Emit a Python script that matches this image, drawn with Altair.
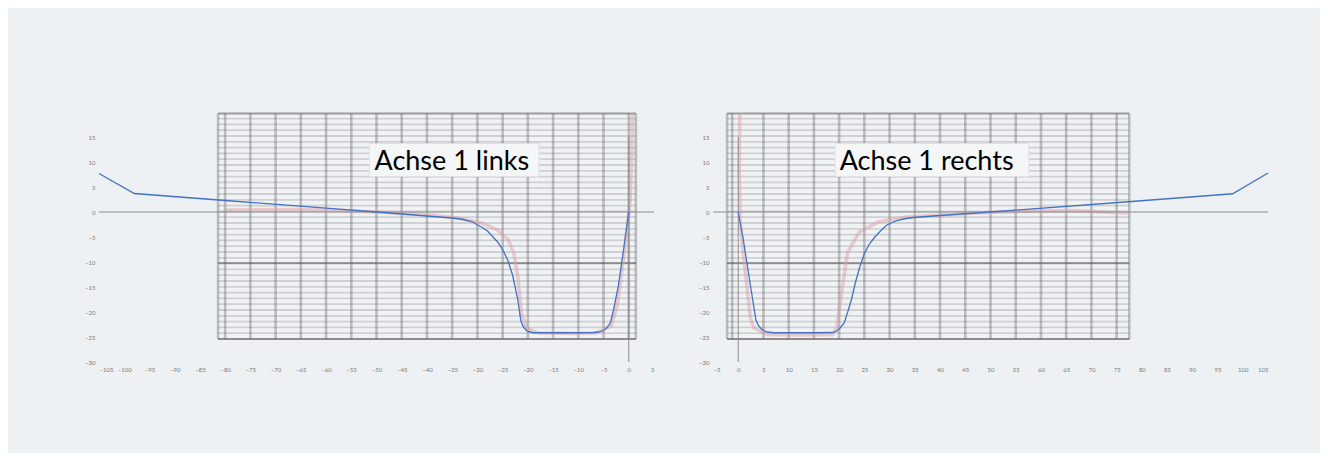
import altair as alt
import pandas as pd

# ---------------- data ----------------
# blue measured curve, left axis
blue_left_x = [-105, -98, -80, -60, -50, -40, -35, -33, -31, -30, -29, -28, -27, -26, -25, -24, -23, -22,
               -21.4, -21, -20.5, -20, -19, -15, -10, -7, -6, -5, -4.5, -4, -3.6, -3, -2.1, -1, 0]
blue_left_y = [7.7, 3.7, 2.3, 0.77, 0.0, -0.8, -1.2, -1.45, -1.95, -2.6, -3.1, -3.8, -4.9, -6.0, -7.5, -9.6,
               -12.7, -17.5, -21.7, -22.8, -23.5, -23.9, -24.15, -24.15, -24.15, -24.1, -24.0, -23.7, -23.3,
               -22.7, -22.0, -19.5, -15, -7.3, 0]
# blue measured curve, right axis
blue_right_x = [0, 1, 2, 3, 3.5, 4, 4.5, 5, 5.8, 7, 10, 15, 18.7, 19.5, 20.2, 21, 21.7, 22.5, 23.2, 24, 25,
                26, 27, 28, 29.4, 30.5, 31.6, 33, 34.7, 40, 50, 77.3, 98, 105]
blue_right_y = [0, -5.5, -12, -18.4, -21.6, -22.7, -23.3, -23.7, -24.0, -24.15, -24.15, -24.15, -24.1, -23.8,
                -23.2, -22.2, -20, -17.3, -14.2, -11.3, -8.3, -6.4, -5.1, -4.0, -2.65, -2.1, -1.66, -1.35,
                -1.1, -0.7, 0.0, 2.05, 3.65, 7.8]
# faded red reference curve (scanned background), left
red_left_x = [-80, -70, -60, -50, -40, -34, -29.2, -26.2, -23.9, -22.8, -22, -21.3, -20.2, -17.9,
              -10, -6.5, -3.5, -2.3, -0.8, 0.3, 0.6, 0.7]
red_left_y = [0.4, 0.5, 0.4, 0.0, -0.5, -1.2, -2.2, -3.5, -5.5, -8.2, -12.8, -20.1, -23.4, -24.2,
              -24.3, -24.2, -22.8, -18.8, -7.5, 2.5, 12, 19.7]
# faded red reference curve, right
red_right_x = [0.3, 0.2, 0.4, 1.2, 2.4, 3.1, 5.8, 12, 18.7, 19.5, 20.6, 21.7, 24, 27.8, 33.2,
               45, 55, 66.6, 74.2, 77.3]
red_right_y = [19.7, 8, -2, -10, -21.2, -23.2, -24.5, -24.6, -24.5, -23.2, -15.3, -8, -4, -2, -1,
               -0.3, 0.1, 0.3, -0.1, -0.2]

# scanned grid picture extent and its lines
scan_left_x = [-81.4, 1.4]
scan_right_x = [-2.2, 77.5]
scan_y = [-25.4, 19.7]
scan_vlines_left = [-81.4, -80, -75, -70, -65, -60, -55, -50, -45, -40, -35, -30, -25, -20, -15, -10, -5, 0, 1.4]
scan_vlines_right = [-2.2, -1.2, 5, 10, 15, 20, 25, 30, 35, 40, 45, 50, 55, 60, 65, 70, 75, 77.5]
scan_hline_step = 1.16
scan_dark_hlines = [-25.4, -10.2, 19.7]

x_ticks_left = [-105, -100, -95, -90, -85, -80, -75, -70, -65, -60, -55, -50, -45, -40, -35, -30,
                -25, -20, -15, -10, -5, 0, 5]
x_ticks_right = [-5, 0, 5, 10, 15, 20, 25, 30, 35, 40, 45, 50, 55, 60, 65, 70, 75, 80, 85, 90, 95, 100, 105]
y_ticks = [-30, -25, -20, -15, -10, -5, 0, 5, 10, 15]

titles = ["Achse 1 links", "Achse 1 rechts"]
# text boxes (data coordinates): x, x2, y, y2, text x, text baseline y
box_left = [-51.4, -17.8, 13.7, 7.1, -50.4, 8.4]
box_right = [19.2, 57.6, 13.7, 7.1, 20.1, 8.4]

W, H = 555, 225
LABEL = dict(labelFontSize=6, labelColor="#7a7a7a", labelFont="Lato", domain=False, ticks=False,
             grid=False, title=None, labelPadding=4, labelOverlap=False)


def panel(bx, by, rx, ry, xdom, xticks, scan_x, vlines, box, title):
    xs = alt.Scale(domain=xdom, nice=False, zero=False)
    ys = alt.Scale(domain=[-30, 15], nice=False, zero=False)
    xa = alt.Axis(values=xticks, **LABEL)
    ya = alt.Axis(values=y_ticks, **LABEL)
    X = lambda f: alt.X(f, type="quantitative", scale=xs, axis=xa)
    Y = lambda f: alt.Y(f, type="quantitative", scale=ys, axis=ya)

    # horizontal lines of the scanned grid
    hl = []
    v = scan_y[0]
    while v <= scan_y[1] + 1e-6:
        hl.append(v)
        v += scan_hline_step
    hdf = pd.DataFrame({"y": hl, "x": scan_x[0], "x2": scan_x[1]})
    hdark = pd.DataFrame({"y": scan_dark_hlines, "x": scan_x[0], "x2": scan_x[1]})
    vdf = pd.DataFrame({"x": vlines, "y": scan_y[0], "y2": scan_y[1]})

    scan_bg = alt.Chart(pd.DataFrame({"x": [scan_x[0]], "x2": [scan_x[1]], "y": [scan_y[0]], "y2": [scan_y[1]]})
                        ).mark_rect(fill="#f1f3f5", opacity=0.8).encode(
        x=X("x"), x2="x2", y=Y("y"), y2="y2")
    h_rules = alt.Chart(hdf).mark_rule(color="#8a8a8a", strokeWidth=1.8, opacity=0.32).encode(
        x=X("x"), x2="x2", y=Y("y"))
    h_dark = alt.Chart(hdark).mark_rule(color="#555555", strokeWidth=2, opacity=0.55).encode(
        x=X("x"), x2="x2", y=Y("y"))
    v_rules = alt.Chart(vdf).mark_rule(color="#5e5e5e", strokeWidth=2.6, opacity=0.36).encode(
        x=X("x"), y=Y("y"), y2="y2")

    rdf = pd.DataFrame({"x": rx, "y": ry, "i": range(len(rx))})
    red = alt.Chart(rdf).mark_line(color="#d9a2ab", strokeWidth=3.5, opacity=0.5).encode(
        x=X("x"), y=Y("y"), order="i:Q")

    zero_h = alt.Chart(pd.DataFrame({"y": [0]})).mark_rule(color="#8c8c8c", strokeWidth=1).encode(
        y=Y("y"))
    zero_v = alt.Chart(pd.DataFrame({"x": [0], "y": [-30], "y2": [15]})).mark_rule(
        color="#8c8c8c", strokeWidth=1).encode(x=X("x"), y=Y("y"), y2="y2")

    bdf = pd.DataFrame({"x": [box[0]], "x2": [box[1]], "y": [box[2]], "y2": [box[3]],
                        "tx": [box[4]], "ty": [box[5]], "t": [title]})
    brect = alt.Chart(bdf).mark_rect(fill="#f4f6f8", stroke="#dde2e6", strokeWidth=1).encode(
        x=X("x"), x2="x2", y=Y("y"), y2="y2")
    btext = alt.Chart(bdf).mark_text(font="Lato", fontSize=27, color="#000000", align="left",
                                     baseline="alphabetic").encode(x=X("tx"), y=Y("ty"), text="t:N")

    bl = pd.DataFrame({"x": bx, "y": by, "i": range(len(bx))})
    blue = alt.Chart(bl).mark_line(color="#4472c4", strokeWidth=1.3).encode(
        x=X("x"), y=Y("y"), order="i:Q")

    return alt.layer(scan_bg, h_rules, h_dark, v_rules, red, zero_h, zero_v, brect, btext, blue
                     ).properties(width=W, height=H)


left = panel(blue_left_x, blue_left_y, red_left_x, red_left_y, [-105, 5], x_ticks_left,
             scan_left_x, scan_vlines_left, box_left, titles[0])
right = panel(blue_right_x, blue_right_y, red_right_x, red_right_y, [-5, 105], x_ticks_right,
              scan_right_x, scan_vlines_right, box_right, titles[1])

chart = alt.hconcat(left, right, spacing=59, bounds="flush").properties(
    background="#edf1f4",
    padding={"left": 76, "top": 98, "right": 49, "bottom": 81},
).configure_view(stroke=None)

chart.save("out.html", embed_options={"renderer": "svg", "actions": False})
